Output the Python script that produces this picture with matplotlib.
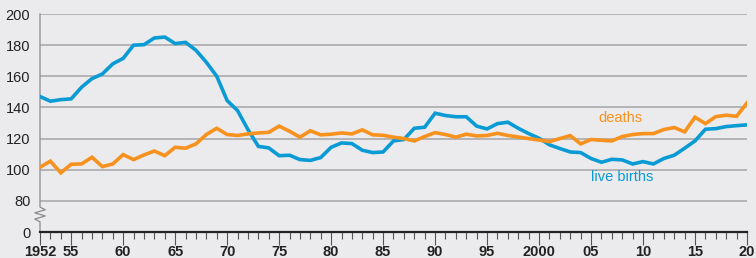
import numpy as np
import matplotlib.pyplot as plt

years = np.arange(1952, 2021)

live_births = [147, 144, 145, 145.5, 153, 158.5, 161.5, 168, 171.5, 180,
               180.3, 184.6, 185.2, 181, 181.8, 176.7, 169, 160, 144.4, 138,
               125.8, 115, 114, 109, 109.3, 106.5, 106, 107.8, 114.4, 117.2,
               116.8, 112.5, 111, 111.4, 118.5, 119.4, 126.6, 127.3, 136.3, 134.8,
               134, 134, 128, 126.2, 129.6, 130.5, 126.6, 123.2, 120.2, 116,
               113.6, 111.4, 111, 107.2, 104.8, 106.7, 106.3, 103.7, 105.2, 103.7,
               107.2, 109.3, 113.8, 118.5, 126, 126.4, 127.7, 128.3, 128.8]

deaths = [101.6, 105.5, 98, 103.5, 103.7, 108, 102, 103.7, 109.7, 106.5,
          109.5, 112, 109, 114.4, 113.8, 116.6, 122.6, 126.6, 122.6, 122,
          123, 123.6, 124, 128, 124.7, 120.9, 125, 122.4, 122.8, 123.6,
          123, 125.6, 122.4, 122.1, 120.9, 120, 118.5, 121.3, 123.8, 122.6,
          120.9, 122.8, 121.7, 122, 123.4, 122, 121, 120, 119.1, 118,
          120, 121.9, 116.6, 119.4, 118.9, 118.5, 121.3, 122.6, 123.2, 123.2,
          125.8, 127.1, 124.3, 133.7, 129.6, 134.1, 135, 134.3, 142.9]

ytick_vals = [60, 80, 100, 120, 140, 160, 180, 200]   # 60 stands in for the broken 0
ytick_labels = ['0', '80', '100', '120', '140', '160', '180', '200']
xtick_vals = [1952, 1955, 1960, 1965, 1970, 1975, 1980, 1985, 1990, 1995,
              2000, 2005, 2010, 2015, 2020]
xtick_labels = ['1952', '55', '60', '65', '70', '75', '80', '85', '90', '95',
                '2000', '05', '10', '15', '20']

plt.rcParams['font.family'] = ['Liberation Sans', 'DejaVu Sans']

bg = '#ebebed'
blue = '#0a9bd5'
orange = '#f7921e'

fig = plt.figure(figsize=(7.56, 2.58), dpi=100, facecolor=bg)
ax = fig.add_axes([40/756, 26/258, 707/756, 218/258])
ax.set_facecolor(bg)

for y in ytick_vals[1:]:
    ax.axhline(y, color='#a5a5a7', lw=1.1, zorder=1)

ax.plot(years, live_births, color=blue, lw=2.6, zorder=3, solid_joinstyle='miter')
ax.plot(years, deaths, color=orange, lw=2.6, zorder=3, solid_joinstyle='miter')

ax.text(2007.8, 133.5, 'deaths', color=orange, fontsize=10.5, ha='center', va='center')
ax.text(2008.0, 95.5, 'live births', color=blue, fontsize=10.5, ha='center', va='center')

ax.set_xlim(1952, 2020)
ax.set_ylim(60, 200)

for s in ['top', 'right', 'left']:
    ax.spines[s].set_visible(False)
ax.spines['bottom'].set_color('#222222')
ax.spines['bottom'].set_linewidth(1.6)

# y axis line with a zigzag break between 0 and 80
zx = [1952, 1952, 1952.5, 1951.5, 1952.5, 1951.5, 1952, 1952]
zy = [200, 76, 74.3, 72.3, 70.3, 68.3, 66.5, 60]
ax.plot(zx, zy, color='#8a8a8c', lw=0.9, clip_on=False, zorder=2)

ax.set_yticks(ytick_vals)
ax.set_yticklabels(ytick_labels)
ax.tick_params(axis='y', length=0, pad=7, labelsize=10.5, labelcolor='#222222')

ax.set_xticks(xtick_vals)
ax.set_xticklabels(xtick_labels, fontweight='bold')
ax.set_xticks(years, minor=True)
ax.tick_params(axis='x', which='major', direction='out', length=9, width=0.8,
               color='#555555', labelsize=10.5, labelcolor='#222222', pad=0)
ax.tick_params(axis='x', which='minor', direction='out', length=5, width=0.8,
               color='#555555')

fig.savefig('out.png', dpi=100, facecolor=bg)
